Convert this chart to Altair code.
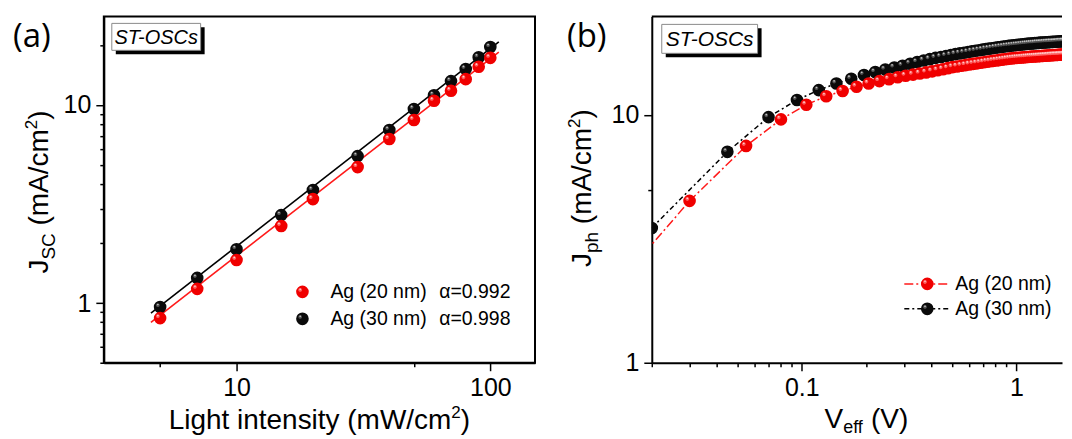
import altair as alt
import pandas as pd

# ---------------- data : panel (a) ----------------
intensity = [5, 7, 10, 15, 20, 30, 40, 50, 60, 70, 80, 90, 100]
jsc_ag20 = [0.84, 1.18, 1.65, 2.45, 3.35, 4.86, 6.73, 8.4, 10.5, 11.8, 13.5, 15.6, 17.3]
jsc_ag30 = [0.955, 1.34, 1.87, 2.78, 3.72, 5.52, 7.48, 9.55, 11.2, 13.2, 15.2, 17.4, 19.6]
fit_intensity = [4.6, 108]
fit_ag20 = [0.80, 18.5]
fit_ag30 = [0.89, 20.8]
series_labels = ["Ag (20 nm)", "Ag (30 nm)"]
alpha_labels = ["α=0.992", "α=0.998"]

# ---------------- data : panel (b) ----------------
veff_ag20 = [0.005, 0.03, 0.055, 0.08, 0.105, 0.13, 0.155, 0.18, 0.205, 0.23, 0.255, 0.28, 0.305,
             0.33, 0.355, 0.38, 0.405, 0.43, 0.455, 0.48, 0.505, 0.53, 0.555, 0.58, 0.605, 0.63,
             0.655, 0.68, 0.705, 0.73, 0.755, 0.78, 0.805, 0.83, 0.855, 0.88, 0.905, 0.93, 0.955,
             0.98, 1.005, 1.03, 1.055, 1.08, 1.105, 1.13, 1.155, 1.18, 1.205, 1.23, 1.255, 1.28,
             1.305, 1.33, 1.355, 1.38, 1.405, 1.43, 1.455, 1.48, 1.505, 1.53, 1.555, 1.58, 1.605,
             1.63, 1.655, 1.68, 1.705, 1.73, 1.755, 1.78, 1.805]
jph_ag20 = [0.75, 4.5, 7.5, 9.6, 11.0, 11.9, 12.5, 13.0, 13.4, 13.7, 13.95, 14.2, 14.4, 14.55,
            14.7, 14.85, 15.0, 15.15, 15.3, 15.45, 15.6, 15.7, 15.8, 15.9, 16.0, 16.08, 16.16,
            16.24, 16.32, 16.4, 16.47, 16.54, 16.6, 16.66, 16.72, 16.78, 16.83, 16.88, 16.93,
            16.97, 17.0, 17.03, 17.06, 17.09, 17.12, 17.15, 17.18, 17.2, 17.22, 17.25, 17.27,
            17.29, 17.31, 17.33, 17.35, 17.37, 17.39, 17.41, 17.42, 17.44, 17.46, 17.47, 17.49,
            17.5, 17.52, 17.53, 17.55, 17.56, 17.57, 17.59, 17.6, 17.61, 17.62]
veff_ag30 = [0.02, 0.045, 0.07, 0.095, 0.12, 0.145, 0.17, 0.195, 0.22, 0.245, 0.27, 0.295, 0.32,
             0.345, 0.37, 0.395, 0.42, 0.445, 0.47, 0.495, 0.52, 0.545, 0.57, 0.595, 0.62, 0.645,
             0.67, 0.695, 0.72, 0.745, 0.77, 0.795, 0.82, 0.845, 0.87, 0.895, 0.92, 0.945, 0.97,
             0.995, 1.02, 1.045, 1.07, 1.095, 1.12, 1.145, 1.17, 1.195, 1.22, 1.245, 1.27, 1.295,
             1.32, 1.345, 1.37, 1.395, 1.42, 1.445, 1.47, 1.495, 1.52, 1.545, 1.57, 1.595, 1.62,
             1.645, 1.67, 1.695, 1.72, 1.745, 1.77, 1.795]
jph_ag30 = [3.5, 7.1, 9.8, 11.5, 12.6, 13.4, 14.0, 14.5, 14.9, 15.25, 15.55, 15.8, 16.1, 16.35,
            16.6, 16.8, 17.0, 17.15, 17.3, 17.45, 17.6, 17.72, 17.84, 17.95, 18.06, 18.16, 18.26,
            18.35, 18.44, 18.52, 18.6, 18.68, 18.75, 18.82, 18.88, 18.94, 19.0, 19.05, 19.1,
            19.15, 19.2, 19.24, 19.28, 19.32, 19.36, 19.4, 19.43, 19.46, 19.49, 19.52, 19.55,
            19.58, 19.6, 19.62, 19.64, 19.66, 19.68, 19.7, 19.72, 19.74, 19.76, 19.78, 19.8,
            19.82, 19.83, 19.85, 19.86, 19.88, 19.89, 19.9, 19.92, 19.93]

# ---------------- ticks ----------------
a_x_major = [10, 100]
a_x_minor = [5, 50]
a_y_major = [1, 10]
a_y_minor = [0.5, 0.6, 0.7, 0.8, 0.9, 2, 3, 4, 5, 6, 7, 8, 9, 20]
b_x_major = [0.1, 1]
b_x_minor = [0.02, 0.03, 0.04, 0.05, 0.06, 0.07, 0.08, 0.09, 0.2, 0.3, 0.4, 0.5, 0.6, 0.7, 0.8, 0.9]
b_y_major = [1, 10]
b_y_minor = [5]

# ---------------- styling ----------------
FONT = "Liberation Sans"
WA, HA = 432, 347
WB, HB = 411, 347
B_XMAX = 1.632
RED, BLACK = "#f00000", "#0a0a0a"
RED_HL, RED_HL2 = "#ff6f6f", "#ffd8d8"
BLK_HL, BLK_HL2 = "#5a5a5a", "#cfcfcf"
BALL = 160
HL_PATH = "M -0.66 -0.3 A 0.3 0.3 0 1 1 -0.06 -0.3 A 0.3 0.3 0 1 1 -0.66 -0.3 Z"
HL2_PATH = "M -0.5 -0.4 A 0.14 0.14 0 1 1 -0.22 -0.4 A 0.14 0.14 0 1 1 -0.5 -0.4 Z"

ARIAL = {' ': 278, '(': 333, ')': 333, '/': 278, 'A': 667, 'C': 722, 'J': 500, 'L': 556,
         'S': 667, 'V': 667, 'W': 944, 'c': 500, 'e': 556, 'f': 278, 'g': 556, 'h': 556,
         'i': 222, 'm': 833, 'n': 556, 'p': 556, 's': 500, 't': 278, 'y': 500}
ONE = pd.DataFrame({"k": [0]})


def tw(s, fs):
    return sum(ARIAL.get(c, 556) for c in s) * fs / 1000.0


def txt(text, x, y, fs, angle=0, font=FONT, italic=False, align="left",
        baseline="alphabetic", color="black"):
    kw = dict(text=text, fontSize=fs, font=font, align=align, baseline=baseline, color=color)
    if angle:
        kw["angle"] = angle
    if italic:
        kw["fontStyle"] = "italic"
    return alt.Chart(ONE).mark_text(**kw).encode(x=alt.value(x), y=alt.value(y))


def htitle(pieces, cx, base_y):
    total = sum(tw(t, fs) for t, fs, sh in pieces)
    x = cx - total / 2
    out = []
    for t, fs, sh in pieces:
        lead = len(t) - len(t.lstrip())
        xs = x + tw(" " * lead, fs)
        out.append(txt(t.strip(), xs, base_y + sh, fs))
        x += tw(t, fs)
    return out


def vtitle(pieces, cy, base_x):
    total = sum(tw(t, fs) for t, fs, sh in pieces)
    y = cy + total / 2
    out = []
    for t, fs, sh in pieces:
        lead = len(t) - len(t.lstrip())
        ys = y - tw(" " * lead, fs)
        out.append(txt(t.strip(), base_x + sh, ys, fs, angle=270))
        y -= tw(t, fs)
    return out


def log_axis(major, minor, orient):
    test = " || ".join(f"datum.value == {m}" for m in major)
    return alt.Axis(orient=orient, values=sorted(major + minor), title="", grid=False,
                    domain=True, domainColor="black", domainWidth=2,
                    ticks=True, tickColor="black", tickWidth=1.5,
                    tickSize={"condition": {"test": test, "value": 8}, "value": 4},
                    labelExpr=f"({test}) ? '' + datum.value : ''",
                    labelFont=FONT, labelFontSize=25, labelColor="black",
                    labelPadding=5, labelFlush=False, labelOverlap=False)


def balls(df, x, y, base, hl1, hl2, clip=False):
    b = alt.Chart(df).mark_point(shape="circle", filled=True, size=BALL, color=base,
                                 opacity=1, clip=clip).encode(x=x, y=y)
    h1 = alt.Chart(df).mark_point(shape=HL_PATH, filled=True, size=BALL, color=hl1,
                                  opacity=0.85, clip=clip).encode(x=x, y=y)
    h2 = alt.Chart(df).mark_point(shape=HL2_PATH, filled=True, size=BALL, color=hl2,
                                  opacity=0.9, clip=clip).encode(x=x, y=y)
    return [b, h1, h2]


def legend_ball(x, y, base, hl1, hl2):
    out = []
    for shape, col, op in (("circle", base, 1), (HL_PATH, hl1, 0.85), (HL2_PATH, hl2, 0.9)):
        out.append(alt.Chart(ONE).mark_point(shape=shape, filled=True, size=BALL, color=col,
                                             opacity=op).encode(x=alt.value(x), y=alt.value(y)))
    return out


def box(x1, y1, x2, y2, label, fs):
    shadow = alt.Chart(ONE).mark_rect(color="black").encode(
        x=alt.value(x1 + 4), x2=alt.value(x2 + 4), y=alt.value(y1 + 4), y2=alt.value(y2 + 4))
    rect = alt.Chart(ONE).mark_rect(fill="white", stroke="#8a8a8a", strokeWidth=1).encode(
        x=alt.value(x1), x2=alt.value(x2), y=alt.value(y1), y2=alt.value(y2))
    t = txt(label, (x1 + x2) / 2, (y1 + y2) / 2 + 1, fs, italic=True, align="center",
            baseline="middle")
    return [shadow, rect, t]


# ================= panel (a) =================
xa = alt.X("x:Q", scale=alt.Scale(type="log", domain=[3, 150], nice=False),
           axis=log_axis(a_x_major, a_x_minor, "bottom"))
ya = alt.Y("y:Q", scale=alt.Scale(type="log", domain=[0.5, 28], nice=False),
           axis=log_axis(a_y_major, a_y_minor, "left"))

df_a20 = pd.DataFrame({"x": intensity, "y": jsc_ag20})
df_a30 = pd.DataFrame({"x": intensity, "y": jsc_ag30})
df_f20 = pd.DataFrame({"x": fit_intensity, "y": fit_ag20})
df_f30 = pd.DataFrame({"x": fit_intensity, "y": fit_ag30})

a_layers = [
    alt.Chart(df_f30).mark_line(color="black", strokeWidth=1.6).encode(x=xa, y=ya),
    alt.Chart(df_f20).mark_line(color="#ff1a1a", strokeWidth=1.6).encode(x=xa, y=ya),
]
a_layers += balls(df_a30, xa, ya, BLACK, BLK_HL, BLK_HL2)
a_layers += balls(df_a20, xa, ya, RED, RED_HL, RED_HL2)
a_layers += box(8, 7, 97, 34, "ST-OSCs", 20)
# legend
a_layers += legend_ball(199, 276, RED, RED_HL, RED_HL2)
a_layers += legend_ball(199, 303, BLACK, BLK_HL, BLK_HL2)
a_layers += [txt(series_labels[0], 227, 276, 19.5, baseline="middle"),
             txt(alpha_labels[0], 336, 276, 19.5, baseline="middle"),
             txt(series_labels[1], 227, 303, 19.5, baseline="middle"),
             txt(alpha_labels[1], 336, 303, 19.5, baseline="middle")]
# titles
a_layers += [txt("(a)", -91, 31, 33, font="Open Sans")]
a_layers += htitle([("Light intensity (mW/cm", 28, 0), ("2", 17, -11), (")", 28, 0)], WA / 2, 413)
a_layers += vtitle([("J", 28, 0), ("SC", 19, 7), (" (mA/cm", 28, 0), ("2", 17, -11), (")", 28, 0)],
                   176, -56)

panel_a = alt.layer(*a_layers).properties(
    width=WA, height=HA, view=alt.ViewBackground(stroke="black", strokeWidth=2))

# ================= panel (b) =================
xb = alt.X("x:Q", scale=alt.Scale(type="log", domain=[0.02, B_XMAX], nice=False),
           axis=log_axis(b_x_major, b_x_minor, "bottom"))
yb = alt.Y("y:Q", scale=alt.Scale(type="log", domain=[1, 25], nice=False),
           axis=log_axis(b_y_major, b_y_minor, "left"))

df_b20 = pd.DataFrame({"x": veff_ag20, "y": jph_ag20})
df_b30 = pd.DataFrame({"x": veff_ag30, "y": jph_ag30})

b_layers = [
    alt.Chart(ONE).mark_rule(color="black", strokeWidth=2).encode(
        x=alt.value(0), x2=alt.value(WB), y=alt.value(0)),
    alt.Chart(df_b20).mark_line(color="#ff1a1a", strokeWidth=1.5, strokeDash=[9, 3, 2, 3],
                                clip=True).encode(x=xb, y=yb),
    alt.Chart(df_b30).mark_line(color="black", strokeWidth=1.5, strokeDash=[5, 3, 2, 3],
                                clip=True).encode(x=xb, y=yb),
]
b_layers += balls(df_b30, xb, yb, BLACK, BLK_HL, BLK_HL2, clip=True)
b_layers += balls(df_b20, xb, yb, RED, RED_HL, RED_HL2, clip=True)
b_layers += box(10, 8, 106, 37, "ST-OSCs", 21)
# legend
b_layers += [
    alt.Chart(ONE).mark_rule(color="#ff1a1a", strokeWidth=1.5, strokeDash=[9, 3, 2, 3]).encode(
        x=alt.value(253), x2=alt.value(298), y=alt.value(268)),
    alt.Chart(ONE).mark_rule(color="black", strokeWidth=1.5, strokeDash=[5, 3, 2, 3]).encode(
        x=alt.value(253), x2=alt.value(298), y=alt.value(293)),
]
b_layers += legend_ball(276, 268, RED, RED_HL, RED_HL2)
b_layers += legend_ball(276, 293, BLACK, BLK_HL, BLK_HL2)
b_layers += [txt(series_labels[0], 304, 268, 19.5, baseline="middle"),
             txt(series_labels[1], 304, 293, 19.5, baseline="middle")]
# titles
b_layers += [txt("(b)", -85, 31, 33, font="Open Sans")]
b_layers += htitle([("V", 28, 0), ("eff", 18, 5), (" (V)", 28, 0)], 215, 412)
b_layers += vtitle([("J", 28, 0), ("ph", 19, 7), (" (mA/cm", 28, 0), ("2", 17, -11), (")", 28, 0)],
                   172, -61)

panel_b = alt.layer(*b_layers).properties(
    width=WB, height=HB, view=alt.ViewBackground(stroke="transparent"))

chart = alt.hconcat(panel_a, panel_b, spacing=117, bounds="flush").properties(
    padding={"left": 4, "top": 6, "right": 0, "bottom": 0}
).configure(font=FONT)

chart.save("out.html", embed_options={"renderer": "svg", "actions": False})
